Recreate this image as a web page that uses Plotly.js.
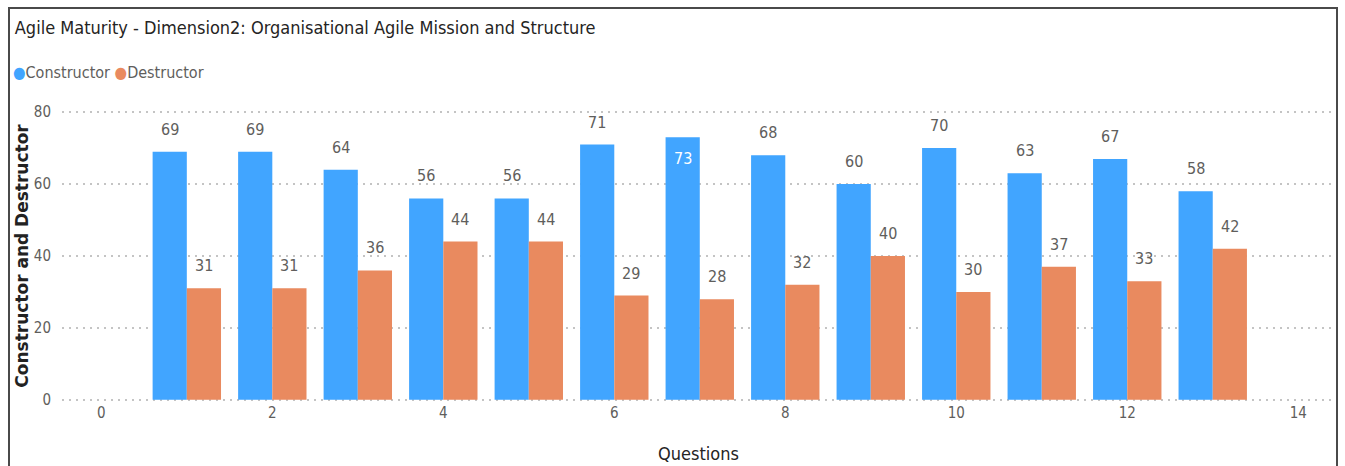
<!DOCTYPE html>
<html>
<head>
<meta charset="utf-8">
<script src="https://cdn.plot.ly/plotly-3.0.1.min.js"></script>
<style>
  html, body { margin: 0; padding: 0; background: #fff; }
  #wrap { position: relative; width: 1345px; height: 466px; overflow: hidden; }
  #chart { width: 1345px; height: 466px; }
  #frame { position: absolute; left: 8px; top: 7px; width: 1330px; height: 480px;
           border: 2px solid #4a4a4a; pointer-events: none; box-sizing: border-box; }
</style>
</head>
<body>
<div id="wrap">
  <div id="chart"></div>
  <div id="frame"></div>
</div>
<script>
const questions = [1, 2, 3, 4, 5, 6, 7, 8, 9, 10, 11, 12, 13];
const constructorVals = [69, 69, 64, 56, 56, 71, 73, 68, 60, 70, 63, 67, 58];
const destructorVals = [31, 31, 36, 44, 44, 29, 28, 32, 40, 30, 37, 33, 42];
const xTicks = [0, 2, 4, 6, 8, 10, 12, 14];
const yTicks = [0, 20, 40, 60, 80];
const seriesNames = ['Constructor', 'Destructor'];

const blue = '#41A5FF';
const orange = '#E98A5F';
const narrow = '"DejaVu Sans Condensed", sans-serif';
const labelGray = '#605E5C';
const darkText = '#252423';

const traces = [
  {
    type: 'bar', x: questions, y: constructorVals, name: seriesNames[0],
    marker: { color: blue }, showlegend: false, hoverinfo: 'x+y'
  },
  {
    type: 'bar', x: questions, y: destructorVals, name: seriesNames[1],
    marker: { color: orange }, showlegend: false, hoverinfo: 'x+y'
  }
];

// Data labels, placed through the axes (half a bar width to either side of each group centre)
const halfBar = 17;
function labels(vals, shift) {
  return vals.map((v, i) => {
    const inside = v > 72;
    return {
      x: questions[i], y: v, xref: 'x', yref: 'y',
      text: String(v), showarrow: false,
      xshift: shift,
      yanchor: inside ? 'top' : 'bottom',
      yshift: inside ? -10 : 11,
      font: { family: narrow, size: 16, color: inside ? '#ffffff' : labelGray }
    };
  });
}

const annotations = [
  ...labels(constructorVals, -halfBar),
  ...labels(destructorVals, halfBar),
  {
    xref: 'paper', yref: 'paper', x: -0.04, y: 1.13, xanchor: 'left', yanchor: 'middle',
    showarrow: false,
    text: '<span style="color:' + blue + '">●</span>' + seriesNames[0] +
          ' <span style="color:' + orange + '">●</span>' + seriesNames[1],
    font: { family: narrow, size: 16, color: labelGray }
  }
];

const layout = {
  width: 1345, height: 466,
  margin: { l: 62, r: 10, t: 110, b: 64 },
  paper_bgcolor: '#ffffff', plot_bgcolor: '#ffffff',
  barmode: 'group', bargap: 0.2, bargroupgap: 0,
  showlegend: false,
  title: {
    text: 'Agile Maturity - Dimension2: Organisational Agile Mission and Structure',
    font: { family: narrow, size: 18, color: darkText },
    x: 0.011, xanchor: 'left', xref: 'container',
    y: 0.94, yanchor: 'middle', yref: 'container'
  },
  xaxis: {
    range: [-0.46, 14.43], tickvals: xTicks, ticktext: xTicks.map(String),
    showgrid: false, zeroline: false, showline: false, ticks: '',
    tickfont: { family: narrow, size: 15, color: labelGray },
    title: { text: 'Questions', font: { family: narrow, size: 18, color: darkText }, standoff: 26 }
  },
  yaxis: {
    range: [-0.6, 80.6], tickvals: yTicks, ticktext: yTicks.map(String),
    showgrid: true, gridcolor: '#c4c4c4', griddash: '1.5px,5.5px', gridwidth: 1.5,
    zeroline: false, showline: false, ticks: '',
    tickfont: { family: narrow, size: 15, color: labelGray },
    ticklabelstandoff: 10,
    title: { text: 'Constructor and Destructor', font: { family: '"DejaVu Sans", sans-serif', size: 17, color: '#222222', weight: 'bold' }, standoff: 0 }
  },
  annotations: annotations
};

Plotly.newPlot('chart', traces, layout, { displayModeBar: false, staticPlot: true });
</script>
</body>
</html>
